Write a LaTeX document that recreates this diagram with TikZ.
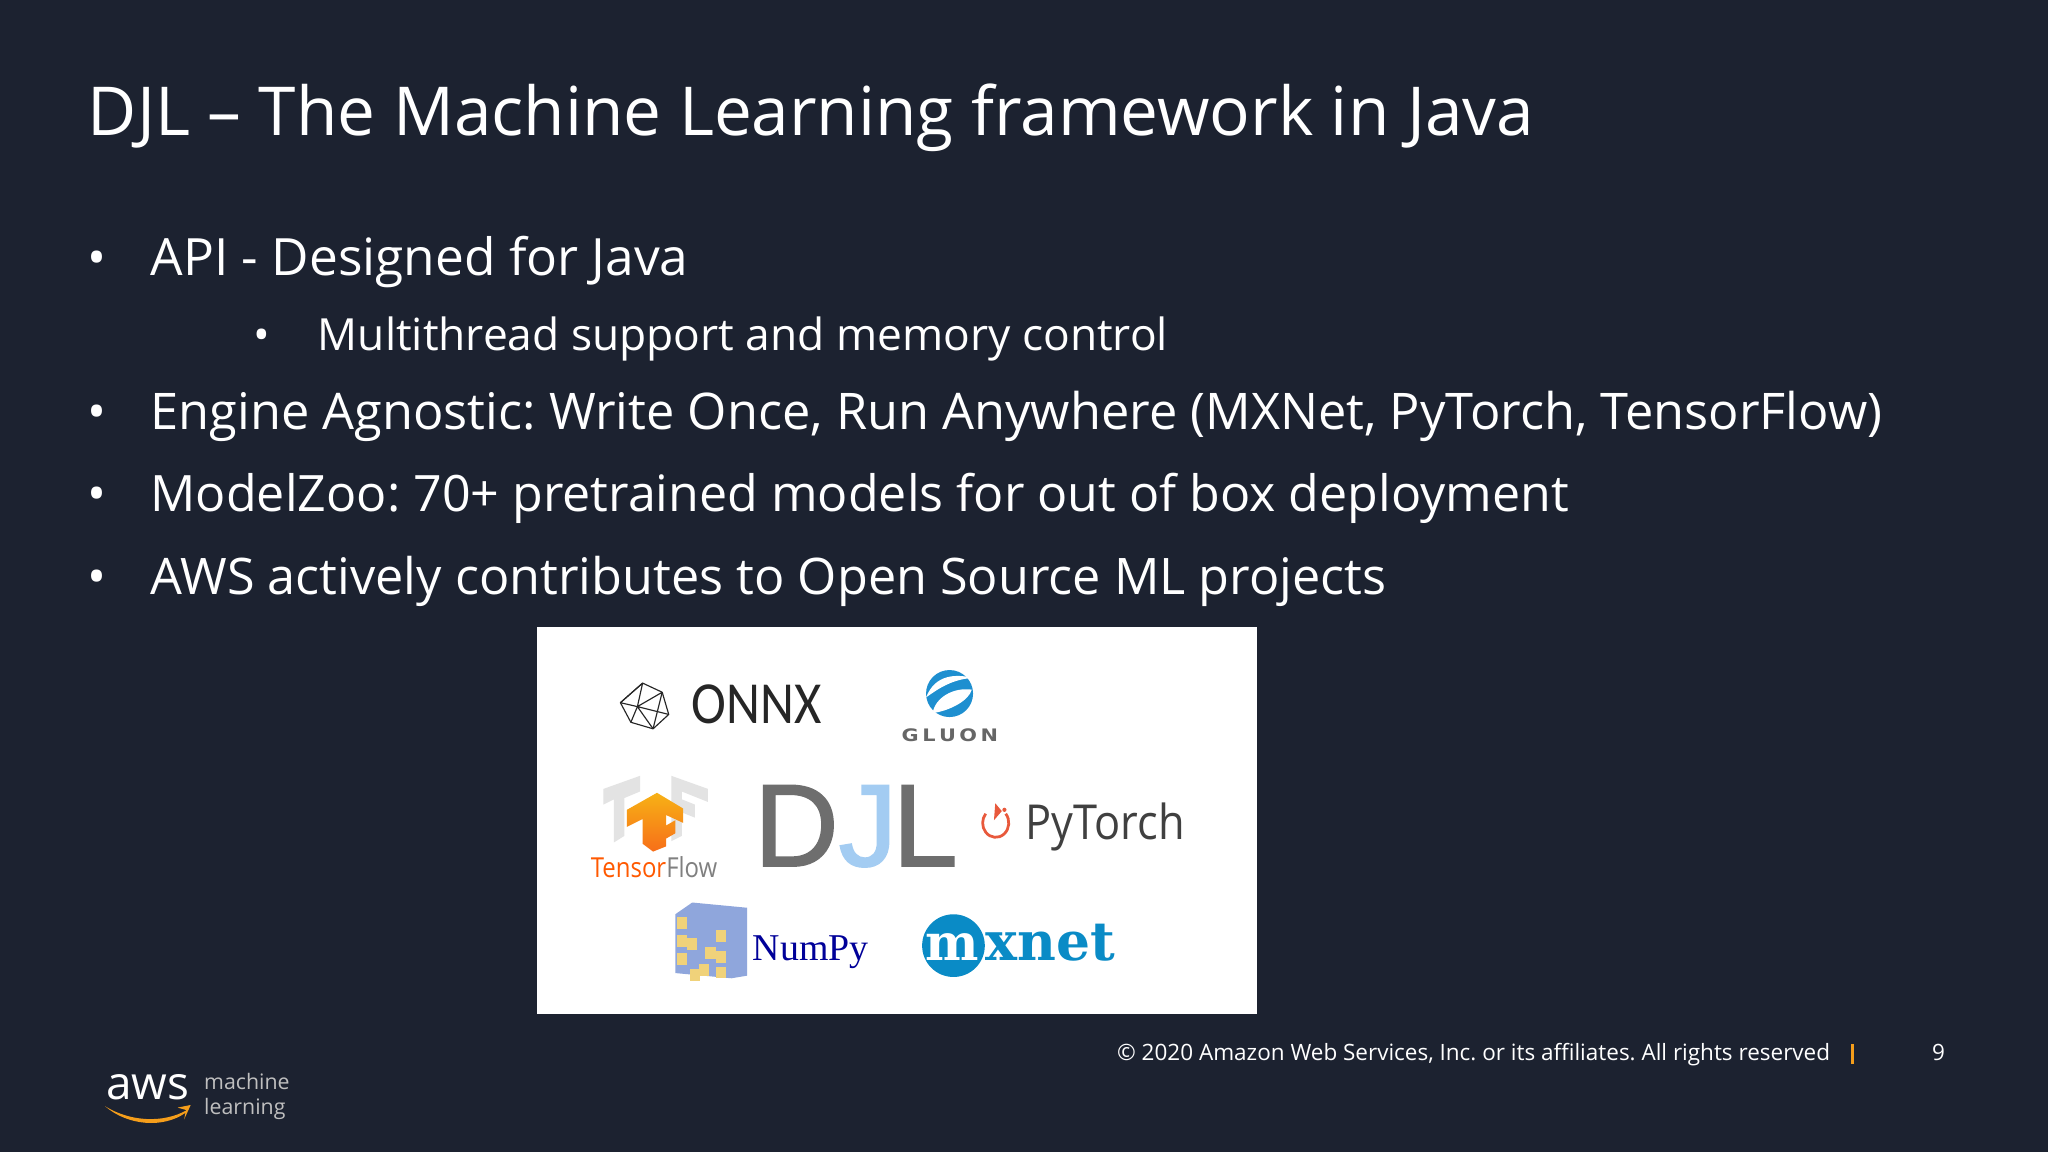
\documentclass[tikz,border=0pt]{standalone}
\usepackage{fontspec}
\usepackage{graphicx}
\setmainfont{Open Sans}
\newfontfamily\numpyface{Liberation Serif}
\newfontfamily\mxface{DejaVu Serif}
\newfontfamily\gluonface{DejaVu Sans}
\newfontfamily\narrowface{Carlito}
\newfontfamily\djlface[FakeBold=1.5]{Liberation Sans}
\usetikzlibrary{positioning}
\definecolor{slidebg}{HTML}{1C2230}
\definecolor{awsorange}{HTML}{F59E1B}
\definecolor{tforange}{HTML}{F58A1F}
\definecolor{mxblue}{HTML}{0A8BC6}
\definecolor{gluonblue}{HTML}{1E8FD0}
\definecolor{npblue}{HTML}{8FA6DC}
\definecolor{npyellow}{HTML}{F0D27A}
\definecolor{torchred}{HTML}{E8593C}
\definecolor{djlgray}{HTML}{6E6E6E}
\definecolor{djlblue}{HTML}{A3CCF2}
\tikzset{
    txt/.style = {anchor=base west,inner sep=0pt,text=white},
    titletxt/.style = {txt,font=\fontsize{29.4}{36}\selectfont},
    bigtxt/.style = {txt,font=\fontsize{22}{26}\selectfont},
    subtxt/.style = {txt,font=\fontsize{19.3}{24}\selectfont},
    foottxt/.style = {txt,font=\fontsize{9.8}{12}\selectfont},
    mltxt/.style = {txt,text=black!25,font=\fontsize{9.3}{12}\selectfont},
    logotxt/.style = {anchor=base west,inner sep=0pt},
    onnxline/.style = {draw=black!85,line width=0.5pt,line join=round},
    tfshadow/.style = {fill=black!11},
}
\frenchspacing
\begin{document}
\begin{tikzpicture}[x=0.2mm,y=-0.2mm]
\useasboundingbox[fill=slidebg] (0,0) rectangle (1568,882);
%
\node[titletxt] at (67,104) (title) {DJL – The Machine Learning framework in Java};
\node[bigtxt] at (67,211) (b1) {•};
\node[bigtxt,font=\fontsize{22.4}{26}\selectfont] at (115,211) (api) {API - Designed for Java};
\node[subtxt] at (194,268) (b2) {•};
\node[subtxt] at (243,268) (thread) {Multithread support and memory control};
\node[bigtxt] at (67,329) (b3) {•};
\node[bigtxt] at (115,329) (engine) {Engine Agnostic: Write Once, Run Anywhere (MXNet, PyTorch, TensorFlow)};
\node[bigtxt] at (67,392) (b4) {•};
\node[bigtxt,font=\fontsize{21.85}{26}\selectfont] at (115,392) (zoo) {ModelZoo: 70+ pretrained models for out of box deployment};
\node[bigtxt] at (67,455) (b5) {•};
\node[bigtxt,font=\fontsize{21.95}{26}\selectfont] at (115,455) (oss) {AWS actively contributes to Open Source ML projects};
%
\fill[white] (411,480) rectangle (962,776);
% onnx
\draw[onnxline] (492,523) -- (507,530) -- (512,547) -- (500,558) -- (483,553) -- (475,538) -- cycle;
\draw[onnxline] (492,523) -- (488,541) -- (512,547) (507,530) -- (488,541) -- (483,553) (475,538) -- (488,541) -- (500,558) (492,523) -- (475,538) (507,530) -- (500,558);
\node[logotxt,font=\narrowface\fontsize{26}{28}\selectfont,text=black!85] at (529,554) (onnx) {\scalebox{0.88}[1]{ONNX}};
% gluon
\fill[gluonblue] (727,531) circle (18);
\fill[white] (709,534) .. controls (716,516) and (732,516) .. (745,519) .. controls (730,520) and (720,526) .. (709,534) -- cycle;
\fill[white] (714,546) .. controls (716,534) and (730,526) .. (744,528) .. controls (742,536) and (728,544) .. (714,546) -- cycle;
\node[logotxt,font=\gluonface\bfseries\fontsize{7.5}{9}\selectfont,text=black!60] at (690,568) (gluon) {\scalebox{1.21}[1]{G\,L\,U\,O\,N}};
% tensorflow
\fill[tfshadow] (462,604) -- (490,594) -- (490,606) -- (478,611) -- (478,640) -- (470,645) -- (470,612) -- (462,616) -- cycle;
\fill[tfshadow] (542,604) -- (514,594) -- (514,644) -- (522,640) -- (522,622) -- (532,626) -- (532,616) -- (522,612) -- (522,606) -- (542,614) -- cycle;
\shade[top color=awsorange!80!yellow,bottom color=tforange!80!red] (480,620) -- (503,607) -- (523,619) -- (523,630) -- (510,624) -- (510,632) -- (517,628) -- (517,638) -- (510,642) -- (510,648) -- (500,652) -- (492,646) -- (492,627) -- (480,633) -- cycle;
\node[logotxt,font=\fontsize{12}{14}\selectfont] at (452,672) (tf) {\scalebox{0.87}[1]{\textcolor{orange!70!red}{Tensor}\textcolor{black!50}{Flow}}};
% djl
\node[logotxt,font=\djlface\fontsize{51}{54}\selectfont,text=djlgray] at (577,663) (djl) {D\textcolor{djlblue}{J}\kern-2ptL};
% pytorch
\draw[torchred,line width=1.2pt] (770,623) arc[start angle=40,end angle=-220,x radius=10,y radius=-11];
\fill[torchred] (762,615) -- (767,621) -- (761,628) -- cycle;
\fill[torchred] (769,620) circle (1.6);
\node[logotxt,font=\fontsize{21}{24}\selectfont,text=black!75] at (785,643) (torch) {\scalebox{0.9}[1]{PyTorch}};
% numpy
\fill[npblue] (517,700) -- (530,691) -- (572,695) -- (572,747) -- (560,749) -- (517,745) -- cycle;
\foreach \px/\py in {518/702,518/716,518/730,526/718,540/725,548/712,548/728,548/740,535/738,528/742}
    \fill[npyellow] (\px,\py) rectangle ++(8,9);
\node[logotxt,font=\numpyface\fontsize{16.5}{18}\selectfont,text=blue!60!black] at (576,735) (numpy) {NumPy};
% mxnet
\fill[mxblue] (730,724) circle (24);
\node[logotxt,font=\mxface\bfseries\fontsize{22}{24}\selectfont,text=white] at (708,735) (mx) {m};
\node[logotxt,font=\mxface\bfseries\fontsize{23.3}{24}\selectfont,text=mxblue] at (754,735) (xnet) {xnet};
%
\node[foottxt] at (855,812) (copyright) {© 2020 Amazon Web Services, Inc. or its affiliates. All rights reserved};
\fill[awsorange] (1417,799) rectangle (1419.5,815);
\node[foottxt] at (1479,812) (page) {9};
% aws logo
\node[txt,font=\fontsize{20}{24}\selectfont] at (81,842) (aws) {aws};
\node[mltxt] at (156,834) (ml1) {machine};
\node[mltxt] at (156,853) (ml2) {learning};
\fill[awsorange] (80.5,847) .. controls (100,859) and (125,860) .. (143,850) -- (136,848) -- (146,846) -- (141,857) -- (142,852) .. controls (125,864) and (98,862) .. (80.5,847) -- cycle;
\end{tikzpicture}
\end{document}
